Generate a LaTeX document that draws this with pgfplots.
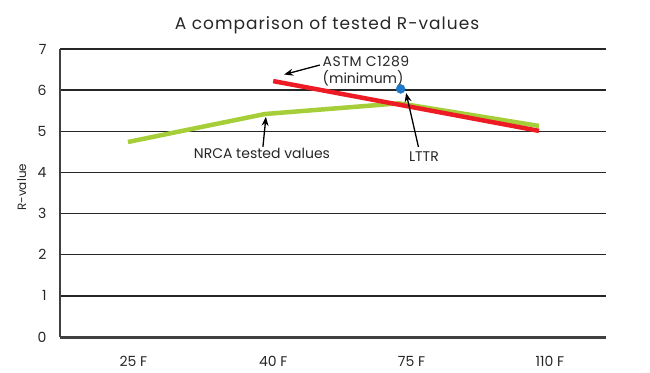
\documentclass[border=0pt]{standalone}
\usepackage{pgfplots}
\pgfplotsset{compat=1.18}
\usetikzlibrary{arrows.meta}
\usepackage{fontspec}
\setmainfont{Poppins}
\newfontfamily\titlefont[LetterSpace=6]{Poppins}
\newfontfamily\astmfont[LetterSpace=4]{Poppins}
\definecolor{nrcagreen}{HTML}{A6CE39}
\definecolor{astmred}{HTML}{ED1C24}
\definecolor{lttrblue}{HTML}{1E78C8}
\definecolor{axgray}{HTML}{404040}

\begin{document}
\begin{tikzpicture}[x=1bp,y=1bp]
\useasboundingbox (0,0) rectangle (650,372);
\begin{axis}[
  at={(60bp,35bp)}, anchor=south west,
  scale only axis, width=546bp, height=288bp,
  xmin=-0.496, xmax=3.489, ymin=0, ymax=7,
  axis x line*=bottom, axis y line*=left,
  x axis line style={-, line width=3bp, color=axgray},
  y axis line style={-, line width=1.3bp, color=axgray},
  ymajorgrids, major grid style={line width=1.3bp, color=black!85},
  major tick length=0pt,
  ytick={0,1,2,3,4,5,6,7},
  xtick={0.04,1.06,2.07,3.08},
  xticklabels={25 F,40 F,75 F,110 F},
  tick label style={font=\fontsize{14bp}{16bp}\selectfont, color=black!85},
  /pgf/number format/assume math mode=true,
  yticklabel style={xshift=-10bp},
  xticklabel style={yshift=-16bp},
  ylabel={R-value},
  ylabel style={at={(axis description cs:-0.07,0.52)}, anchor=center, font=\fontsize{12bp}{14bp}\selectfont, color=black!85},
  clip=false,
]
\addplot[color=nrcagreen, line width=4.5bp] coordinates {(0,4.74) (1,5.42) (1.98,5.68) (3,5.13)};
\addplot[color=astmred, line width=4.5bp] coordinates {(1.06,6.22) (3,5.01)};
\addplot[only marks, mark=*, mark size=4.5bp, color=lttrblue] coordinates {(1.99,6.03)};

\draw[-{Stealth[length=9bp,width=7bp]}, line width=1.3bp] (axis cs:1.40,6.61) -- (axis cs:1.14,6.38);
\node[anchor=west, align=left, font=\fontsize{14bp}{17bp}\selectfont, color=black!85, inner sep=0pt] at (axis cs:1.42,6.47) {{\astmfont ASTM C1289}\\(minimum)};
\draw[-{Stealth[length=9bp,width=7bp]}, line width=1.3bp] (axis cs:0.985,4.62) -- (axis cs:1.007,5.35);
\node[anchor=center, font=\fontsize{14bp}{17bp}\selectfont, color=black!85] at (axis cs:0.978,4.47) {NRCA tested values};
\draw[-{Stealth[length=9bp,width=7bp]}, line width=1.3bp] (axis cs:2.12,4.62) -- (axis cs:2.03,5.93);
\node[anchor=center, font=\fontsize{14bp}{17bp}\selectfont, color=black!85] at (axis cs:2.16,4.38) {LTTR};
\end{axis}
\node[anchor=base, font=\titlefont\fontsize{17bp}{20bp}\selectfont, color=black!85] at (327,343) {A comparison of tested R-values};
\end{tikzpicture}
\end{document}
